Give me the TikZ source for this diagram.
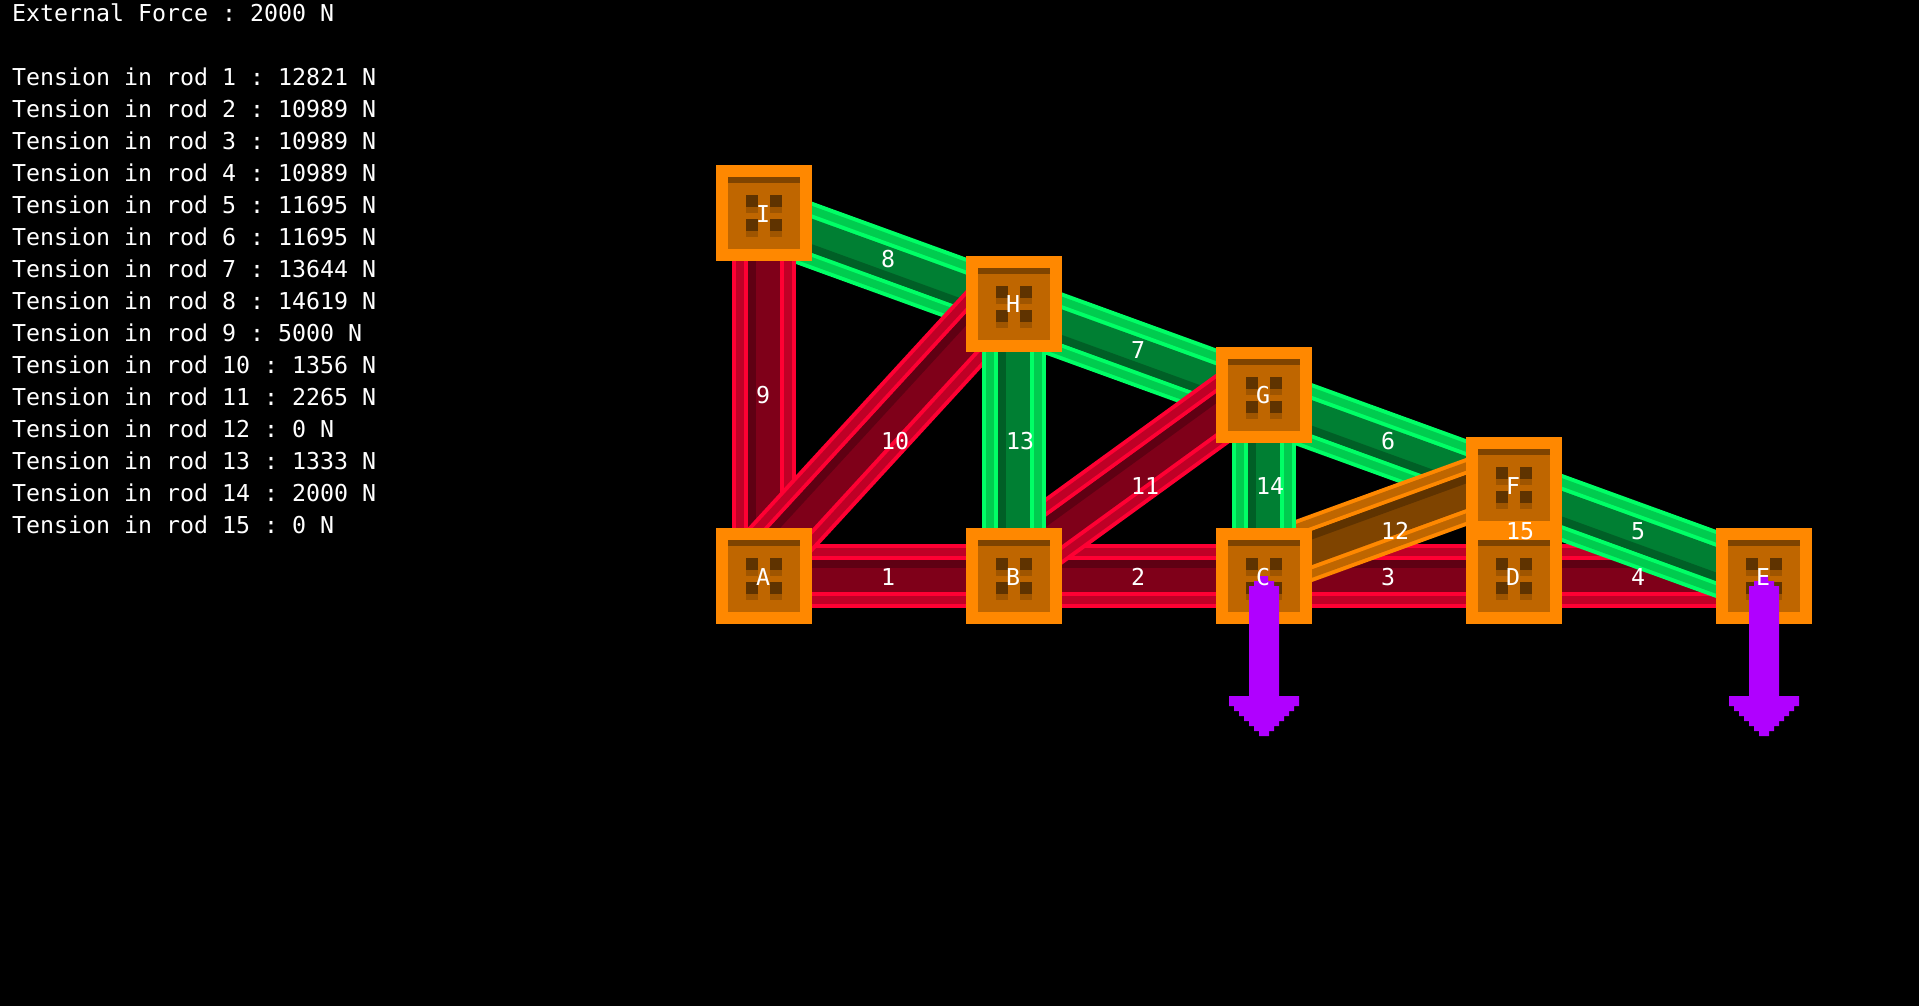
\documentclass[tikz,border=0pt]{standalone}
\usepackage{fontspec}
\setmonofont{DejaVu Sans Mono}
\usetikzlibrary{calc}
\definecolor{redA}{HTML}{FF0033}
\definecolor{redB}{HTML}{BF0026}
\definecolor{redC}{HTML}{7F0019}
\definecolor{redD}{HTML}{5F0013}
\definecolor{greenA}{HTML}{00FF66}
\definecolor{greenB}{HTML}{00CC4F}
\definecolor{greenC}{HTML}{007F33}
\definecolor{greenD}{HTML}{005F26}
\definecolor{orangeA}{HTML}{FF8800}
\definecolor{orangeB}{HTML}{BF6600}
\definecolor{orangeC}{HTML}{7F4400}
\definecolor{orangeD}{HTML}{5F3300}
\definecolor{orangeE}{HTML}{9F5500}
\definecolor{forcecol}{HTML}{B000FF}
\tikzset{
    joint/.style={minimum size=96pt, inner sep=0pt},
    block/.style={joint, fill=orangeA},
    readout/.style={anchor=mid west, inner sep=0pt, text=white, font=\ttfamily\fontsize{23.25}{23.25}\selectfont},
    rodlabel/.style={readout},
    jointlabel/.style={rodlabel, anchor=mid},
}
\newcommand{\rod}[4]{
    \coordinate (rs) at ($(#1.center)!#4pt!90:(#2.center)$);
    \coordinate (re) at ($(#2.center)!#4pt!-90:(#1.center)$);
    \draw[line width=64pt, #3A] (rs) -- (re);
    \draw[line width=56pt, #3B] (rs) -- (re);
    \draw[line width=40pt, #3A] (rs) -- (re);
    \draw[line width=32pt, #3C] (rs) -- (re);
    \draw[line width=8pt, #3D] ($(rs)!12pt!90:(re)$) -- ($(re)!12pt!-90:(rs)$);
}
\begin{document}
\begin{tikzpicture}[x=1pt, y=-1pt]
    \fill[black] (0,0) rectangle (1919,1006);
    \useasboundingbox (0,0) rectangle (1919,1006);
    \node[readout] (force) at (12,19.5) {External Force : 2000 N};
    \foreach \i/\t in {1/12821,2/10989,3/10989,4/10989,5/11695,6/11695,7/13644,8/14619,9/5000,10/1356,11/2265,12/0,13/1333,14/2000,15/0}
        \node[readout] (tension\i) at (12,{19.5+32*(\i+1)}) {Tension in rod \i{} : \t{} N};
    \foreach \n/\px/\py in {A/764/576,B/1014/576,C/1264/576,D/1514/576,E/1764/576,F/1514/485.25,G/1264/394.5,H/1014/303.75,I/764/213}
        \node[joint] (\n) at (\px,\py) {};
    \rod{A}{B}{red}{0}
    \rod{B}{C}{red}{0}
    \rod{C}{D}{red}{0}
    \rod{D}{E}{red}{0}
    \rod{E}{F}{green}{5}
    \rod{F}{G}{green}{5}
    \rod{G}{H}{green}{5}
    \rod{H}{I}{green}{5}
    \rod{A}{I}{red}{0}
    \rod{A}{H}{red}{12.6}
    \rod{B}{G}{red}{13}
    \rod{C}{F}{orange}{10}
    \rod{B}{H}{green}{0}
    \rod{C}{G}{green}{0}
    \rod{D}{F}{orange}{0}
    \foreach \n in {A,B,C,D,E,F,G,H,I} {
        \node[block] (box\n) at (\n) {};
        \begin{scope}[shift={(\n)}]
            \fill[orangeB] (-36,-36) rectangle (36,36);
            \fill[orangeC] (-36,-36) rectangle (36,-30);
            \foreach \dx in {-18,6} \foreach \dy in {-18,6} {
                \fill[orangeE] (\dx,\dy) rectangle (\dx+12,\dy+18);
                \fill[orangeD] (\dx,\dy) rectangle (\dx+12,\dy+12);
            }
        \end{scope}
    }
    \foreach \n in {C,E}
        \fill[forcecol, shift={(\n)}] (-4,0) -- (4,0) -- (4,5) -- (10,5) -- (10,10) -- (15,10) -- (15,120) -- (35,120) -- (35,130)
            -- (30,130) -- (30,135) -- (25,135) -- (25,140) -- (20,140) -- (20,145) -- (15,145) -- (15,150) -- (10,150) -- (10,155) -- (5,155) -- (5,160)
            -- (-5,160) -- (-5,155) -- (-10,155) -- (-10,150) -- (-15,150) -- (-15,145) -- (-20,145) -- (-20,140) -- (-25,140) -- (-25,135) -- (-30,135) -- (-30,130) -- (-35,130)
            -- (-35,120) -- (-15,120) -- (-15,10) -- (-10,10) -- (-10,5) -- (-4,5) -- cycle;
    \foreach \n in {A,B,C,D,E,F,G,H,I}
        \node[jointlabel] (label\n) at ($(\n)+(-1,7)$) {\n};
    \foreach \i/\a/\b in {1/A/B,2/B/C,3/C/D,4/D/E,5/E/F,6/F/G,7/G/H,8/H/I,9/A/I,10/A/H,11/B/G,12/C/F,13/B/H,14/C/G,15/D/F}
        \node[rodlabel] (rod\i) at ($(\a)!0.5!(\b)+(-8,7)$) {\i};
\end{tikzpicture}
\end{document}
